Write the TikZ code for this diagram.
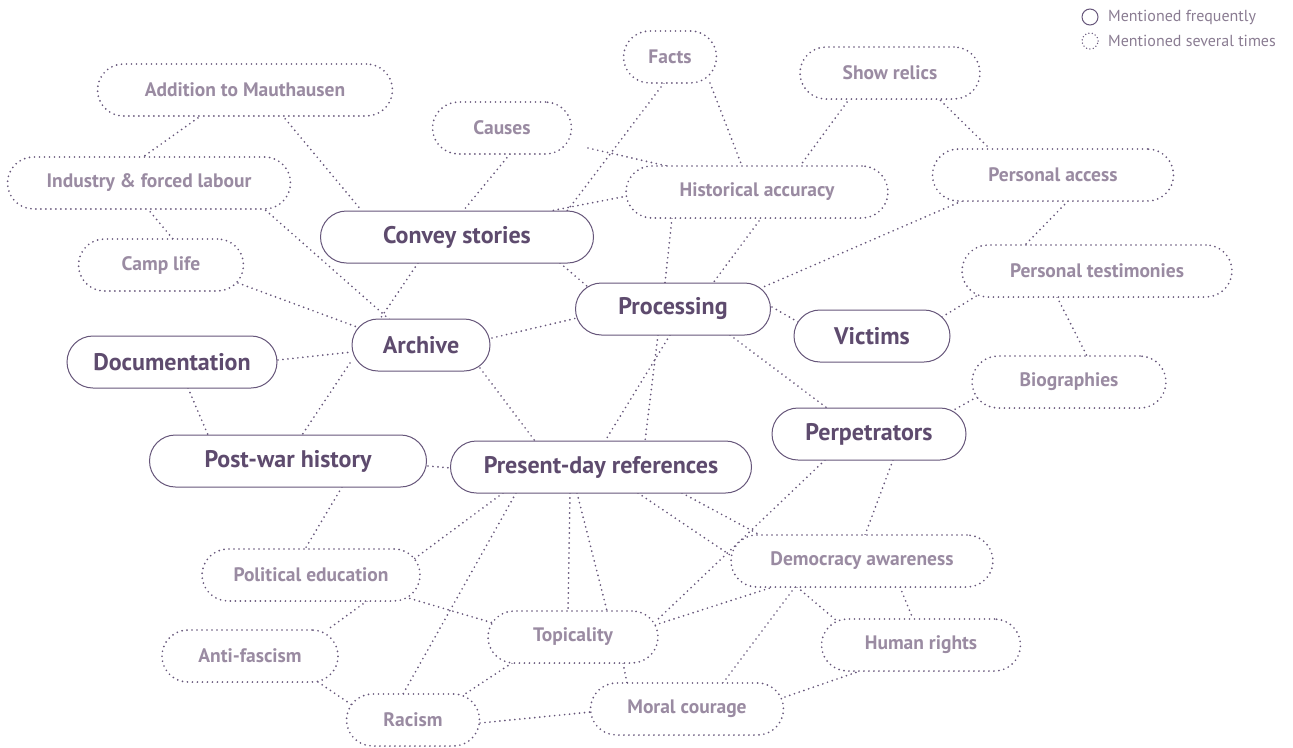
\documentclass[tikz,border=0pt]{standalone}
\usepackage{fontspec}
\setmainfont{PT Sans}
\usetikzlibrary{calc,backgrounds}
\definecolor{mainc}{HTML}{5E4B6E}
\definecolor{secc}{HTML}{9A8BA2}
\definecolor{linec}{HTML}{66567A}
\definecolor{legc}{HTML}{8A7C92}
\tikzset{
 base/.style={rectangle, rounded corners=26pt, minimum height=52pt, fill=white, inner sep=0pt},
 mainnode/.style={base, draw=linec, line width=1pt, text=mainc, font=\fontsize{24}{28}\selectfont\bfseries},
 secnode/.style={base, draw=linec, line width=1.9pt, dash pattern=on 0pt off 5pt, line cap=round, text=secc, font=\fontsize{19.5}{23}\selectfont\bfseries},
 ln/.style={draw=linec, line width=1.9pt, dash pattern=on 0pt off 5pt, line cap=round},
 legtext/.style={anchor=west, text=legc, font=\fontsize{16}{19}\selectfont, inner sep=0pt},
}
\begin{document}
\begin{tikzpicture}[x=1pt,y=-1pt]
\useasboundingbox (0,0) rectangle (1293,747);
% main nodes
\node[mainnode, minimum width=273pt] (conv) at (457,237) {Convey stories};
\node[mainnode, minimum width=195pt] (proc) at (673,309) {Processing};
\node[mainnode, minimum width=138pt] (arch) at (421,345) {Archive};
\node[mainnode, minimum width=156pt] (vict) at (872,336) {Victims};
\node[mainnode, minimum width=210pt] (doc) at (172,362) {Documentation};
\node[mainnode, minimum width=194pt] (perp) at (869,434) {Perpetrators};
\node[mainnode, minimum width=277pt] (post) at (288,461) {Post-war history};
\node[mainnode, minimum width=301pt] (pres) at (601,467) {Present-day references};
% secondary nodes
\node[secnode, minimum width=93pt] (facts) at (670,57) {Facts};
\node[secnode, minimum width=180pt] (relics) at (890,73) {Show relics};
\node[secnode, minimum width=295pt] (addit) at (245,90) {Addition to Mauthausen};
\node[secnode, minimum width=139pt] (causes) at (502,128) {Causes};
\node[secnode, minimum width=262pt] (hist) at (757,192) {Historical accuracy};
\node[secnode, minimum width=241pt] (pacc) at (1053,175) {Personal access};
\node[secnode, minimum width=283pt] (indus) at (149,183) {Industry \& forced labour};
\node[secnode, minimum width=165pt] (camp) at (161,265) {Camp life};
\node[secnode, minimum width=270pt] (ptest) at (1097,271) {Personal testimonies};
\node[secnode, minimum width=194pt] (bio) at (1069,382) {Biographies};
\node[secnode, minimum width=218pt] (poled) at (311,575) {Political education};
\node[secnode, minimum width=262pt] (demo) at (862,561) {Democracy awareness};
\node[secnode, minimum width=170pt] (topic) at (573,637) {Topicality};
\node[secnode, minimum width=176pt] (anti) at (250,656) {Anti-fascism};
\node[secnode, minimum width=199pt] (human) at (921,645) {Human rights};
\node[secnode, minimum width=133pt] (racism) at (413,720) {Racism};
\node[secnode, minimum width=193pt] (moral) at (687,709) {Moral courage};
% legend
\node[circle, draw=linec, line width=1pt, minimum size=16pt, inner sep=0pt] (lg1) at (1090,17) {};
\node[circle, draw=linec, line width=1.5pt, dash pattern=on 0pt off 3.4pt, line cap=round, minimum size=16pt, inner sep=0pt] (lg2) at (1090,41) {};
\node[legtext] (lt1) at (1108,17) {Mentioned frequently};
\node[legtext] (lt2) at (1108,41) {Mentioned several times};
% connectors
\begin{scope}[on background layer]
\draw[ln] ($(addit)+(-43,25)$) -- ($(indus)+(-6,-26)$);
\draw[ln] ($(addit)+(37,25)$) -- ($(conv)+(-95,-26)$);
\draw[ln] ($(indus)+(-2,25)$) -- ($(camp)+(12,-26)$);
\draw[ln] ($(indus)+(113,24)$) -- ($(arch)+(-31,-25)$);
\draw[ln] ($(camp)+(77,18)$) -- ($(arch)+(-64,-18)$);
\draw[ln] ($(conv)+(-39,26)$) -- ($(arch)+(-41,-26)$);
\draw[ln] ($(doc)+(106,-2)$) -- ($(arch)+(-69,7)$);
\draw[ln] ($(arch)+(-71,18)$) -- ($(post)+(14,-26)$);
\draw[ln] ($(doc)+(16,26)$) -- ($(post)+(-80,-26)$);
\draw[ln] ($(post)+(140,5)$) -- ($(pres)+(-150,1)$);
\draw[ln] ($(arch)+(59,23)$) -- ($(pres)+(-66,-26)$);
\draw[ln] ($(arch)+(71,-7)$) -- ($(proc)+(-96,9)$);
\draw[ln] ($(causes)+(8,26)$) -- ($(conv)+(6,-26)$);
\draw[ln] ($(causes)+(86,20)$) -- ($(hist)+(-90,-26)$);
\draw[ln] ($(facts)+(-6,26)$) -- ($(conv)+(110,-26)$);
\draw[ln] ($(hist)+(-130,4)$) -- ($(conv)+(93,-26)$);
\draw[ln] ($(facts)+(40,26)$) -- ($(hist)+(-15,-26)$);
\draw[ln] ($(relics)+(-40,25)$) -- ($(hist)+(43,-26)$);
\draw[ln] ($(relics)+(47,24)$) -- ($(pacc)+(-63,-26)$);
\draw[ln] ($(hist)+(-85,26)$) -- ($(proc)+(-8,-26)$);
\draw[ln] ($(hist)+(5,25)$) -- ($(proc)+(40,-26)$);
\draw[ln] ($(conv)+(103,26)$) -- ($(proc)+(-85,-22)$);
\draw[ln] ($(pacc)+(-91,26)$) -- ($(proc)+(88,-21)$);
\draw[ln] ($(proc)+(99,-2)$) -- ($(vict)+(-74,-14)$);
\draw[ln] ($(vict)+(70,-19)$) -- ($(ptest)+(-119,24)$);
\draw[ln] ($(pacc)+(15,26)$) -- ($(ptest)+(-72,-26)$);
\draw[ln] ($(ptest)+(-40,26)$) -- ($(bio)+(18,-26)$);
\draw[ln] ($(bio)+(-92,15)$) -- ($(perp)+(83,-23)$);
\draw[ln] ($(proc)+(57,26)$) -- ($(perp)+(-42,-26)$);
\draw[ln] ($(proc)+(-15,26)$) -- ($(pres)+(44,-26)$);
\draw[ln] ($(proc)+(-3,26)$) -- ($(pres)+(4,-26)$);
\draw[ln] ($(perp)+(-44,26)$) -- ($(topic)+(82,-15)$);
\draw[ln] ($(perp)+(24,26)$) -- ($(demo)+(3,-26)$);
\draw[ln] ($(pres)+(37,26)$) -- ($(demo)+(-129,-4)$);
\draw[ln] ($(pres)+(81,26)$) -- ($(demo)+(-102,-26)$);
\draw[ln] ($(pres)+(-98,26)$) -- ($(poled)+(103,-16)$);
\draw[ln] ($(pres)+(-85,26)$) -- ($(racism)+(-10,-26)$);
\draw[ln] ($(pres)+(-31,26)$) -- ($(topic)+(-5,-26)$);
\draw[ln] ($(pres)+(-24,26)$) -- ($(topic)+(34,-26)$);
\draw[ln] ($(post)+(54,26)$) -- ($(poled)+(-6,-26)$);
\draw[ln] ($(poled)+(94,22)$) -- ($(topic)+(-80,-14)$);
\draw[ln] ($(poled)+(56,26)$) -- ($(anti)+(77,-26)$);
\draw[ln] ($(anti)+(68,26)$) -- ($(racism)+(-61,-15)$);
\draw[ln] ($(topic)+(-61,26)$) -- ($(racism)+(52,-26)$);
\draw[ln] ($(racism)+(67,3)$) -- ($(moral)+(-96,3)$);
\draw[ln] ($(topic)+(50,26)$) -- ($(moral)+(-60,-26)$);
\draw[ln] ($(topic)+(82,-12)$) -- ($(demo)+(-89,26)$);
\draw[ln] ($(demo)+(-67,26)$) -- ($(moral)+(36,-26)$);
\draw[ln] ($(demo)+(-65,26)$) -- ($(human)+(-84,-24)$);
\draw[ln] ($(demo)+(38,26)$) -- ($(human)+(-8,-26)$);
\draw[ln] ($(moral)+(98,-12)$) -- ($(human)+(-61,26)$);
\end{scope}
\end{tikzpicture}
\end{document}
